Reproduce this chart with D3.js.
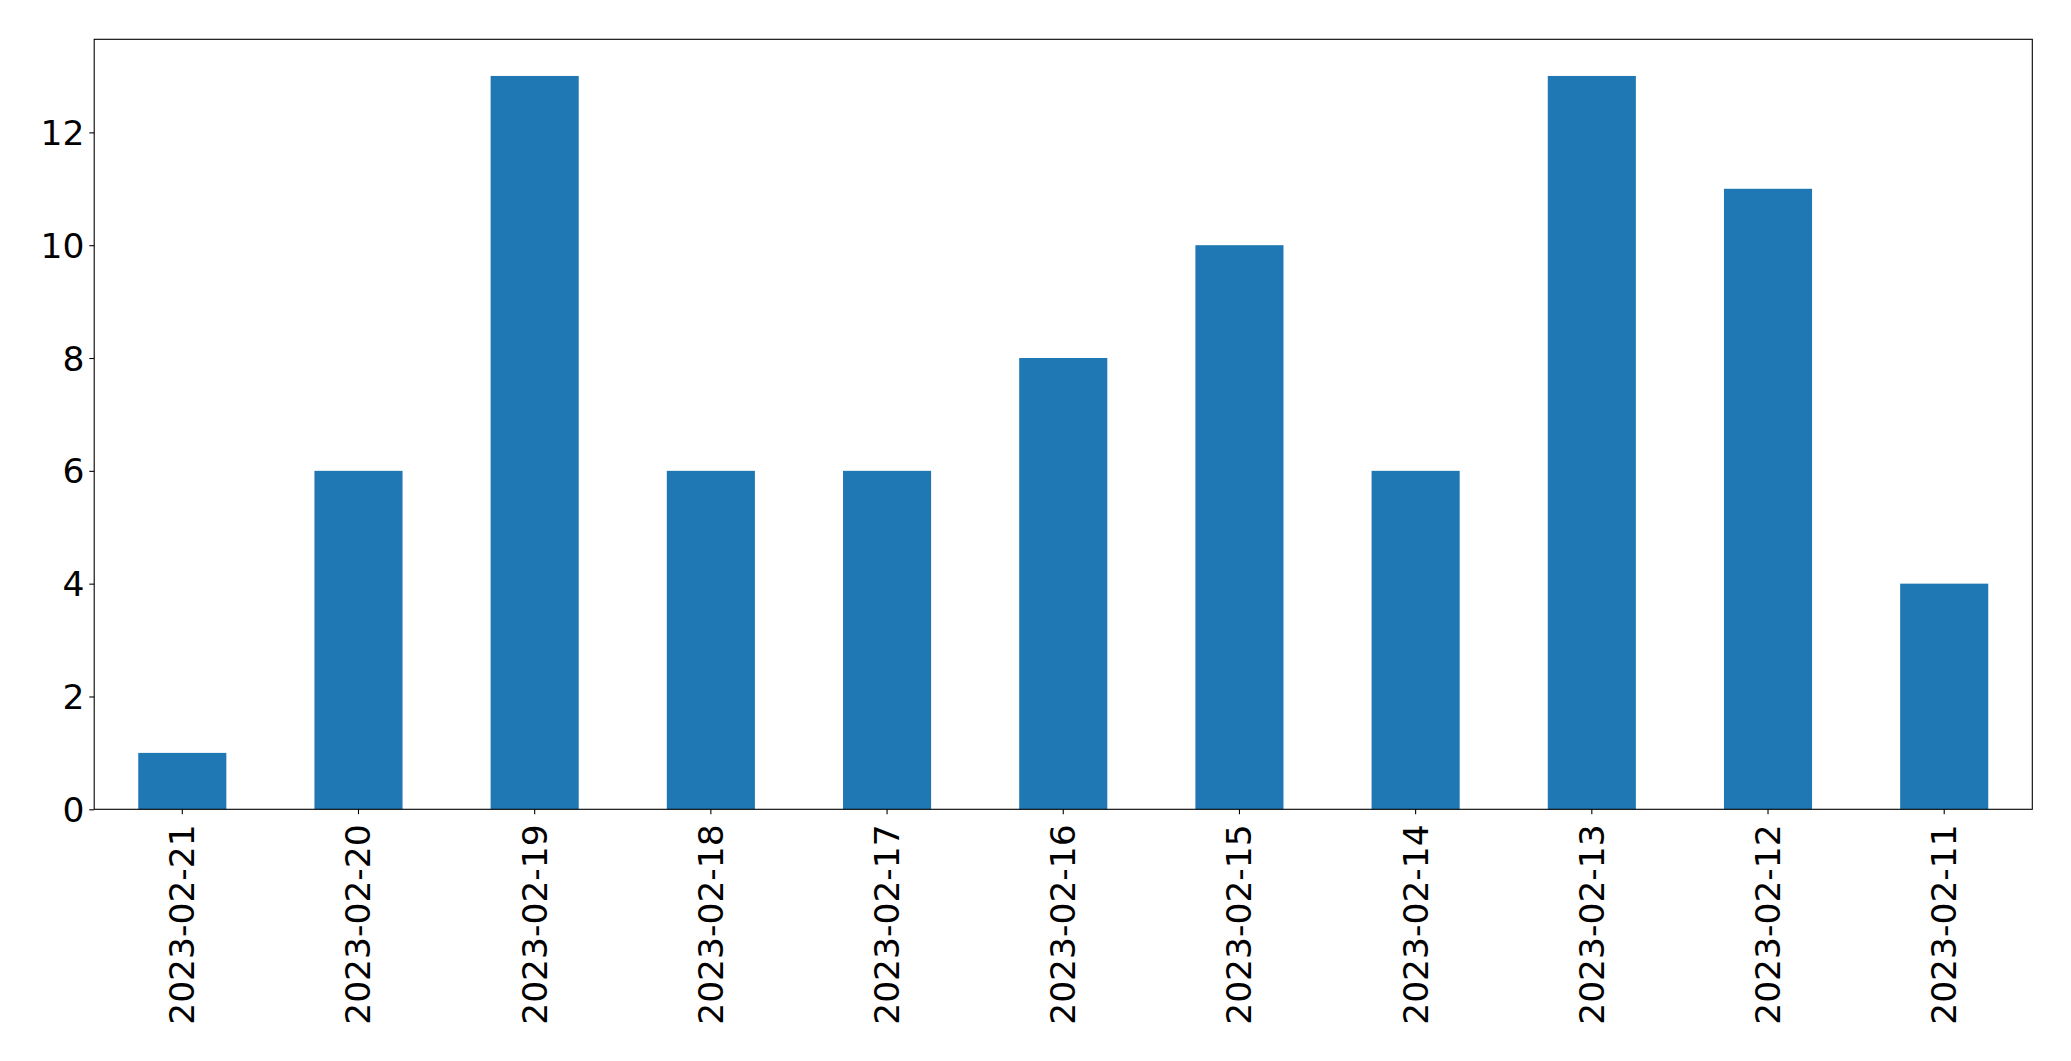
<!DOCTYPE html>
<html>
<head>
<meta charset="utf-8">
<script src="https://cdn.jsdelivr.net/npm/d3@7"></script>
<style>
  html, body { margin: 0; padding: 0; background: #fff; }
  svg { display: block; }
  text { font-family: "DejaVu Sans", sans-serif; fill: #000; }
</style>
</head>
<body>
<svg id="chart" width="2071" height="1061"></svg>
<script>
const categories = ["2023-02-21","2023-02-20","2023-02-19","2023-02-18","2023-02-17","2023-02-16","2023-02-15","2023-02-14","2023-02-13","2023-02-12","2023-02-11"];
const values = [1, 6, 13, 6, 6, 8, 10, 6, 13, 11, 4];
const yTicks = [0, 2, 4, 6, 8, 10, 12];

(function () {
const svg = d3.select("#chart");
const pLeft = 94.2, pRight = 2032.3, pTop = 39.3, pBottom = 809.3;
const fontSize = 34.5;

const x = d3.scaleBand().domain(categories).range([pLeft, pRight]).paddingInner(0.5).paddingOuter(0.25);
const y = d3.scaleLinear().domain([0, d3.max(values) * 1.05]).range([pBottom, pTop]);

// bars
svg.append("g").selectAll("rect").data(values).join("rect")
  .attr("x", (d, i) => x(categories[i]))
  .attr("width", x.bandwidth())
  .attr("y", d => y(d))
  .attr("height", d => pBottom - y(d))
  .attr("fill", "#1f77b4");

// y axis
const yAxis = d3.axisLeft(y).tickValues(yTicks).tickSize(4.9).tickPadding(4.9).tickFormat(d3.format("d"));
const gy = svg.append("g").attr("transform", `translate(${pLeft},0)`).call(yAxis);
gy.select(".domain").remove();
gy.selectAll(".tick line").attr("stroke", "#000").attr("stroke-width", 1.1);
gy.selectAll(".tick text").attr("font-size", fontSize).attr("font-family", "DejaVu Sans").attr("fill", "#000").attr("dy", "0.35em");

// x axis
const xAxis = d3.axisBottom(x).tickSize(4.9).tickPadding(0);
const gx = svg.append("g").attr("transform", `translate(0,${pBottom})`).call(xAxis);
gx.select(".domain").remove();
gx.selectAll(".tick line").attr("stroke", "#000").attr("stroke-width", 1.1);
gx.selectAll(".tick text")
  .attr("font-size", fontSize).attr("font-family", "DejaVu Sans").attr("fill", "#000")
  .attr("text-anchor", "end")
  .attr("dy", null)
  .attr("y", 0)
  .attr("dominant-baseline", "central")
  .attr("transform", "translate(0,15) rotate(-90)");

// frame
svg.append("rect")
  .attr("x", pLeft).attr("y", pTop)
  .attr("width", pRight - pLeft).attr("height", pBottom - pTop)
  .attr("fill", "none").attr("stroke", "#000").attr("stroke-width", 1.1);
})();
</script>
</body>
</html>
